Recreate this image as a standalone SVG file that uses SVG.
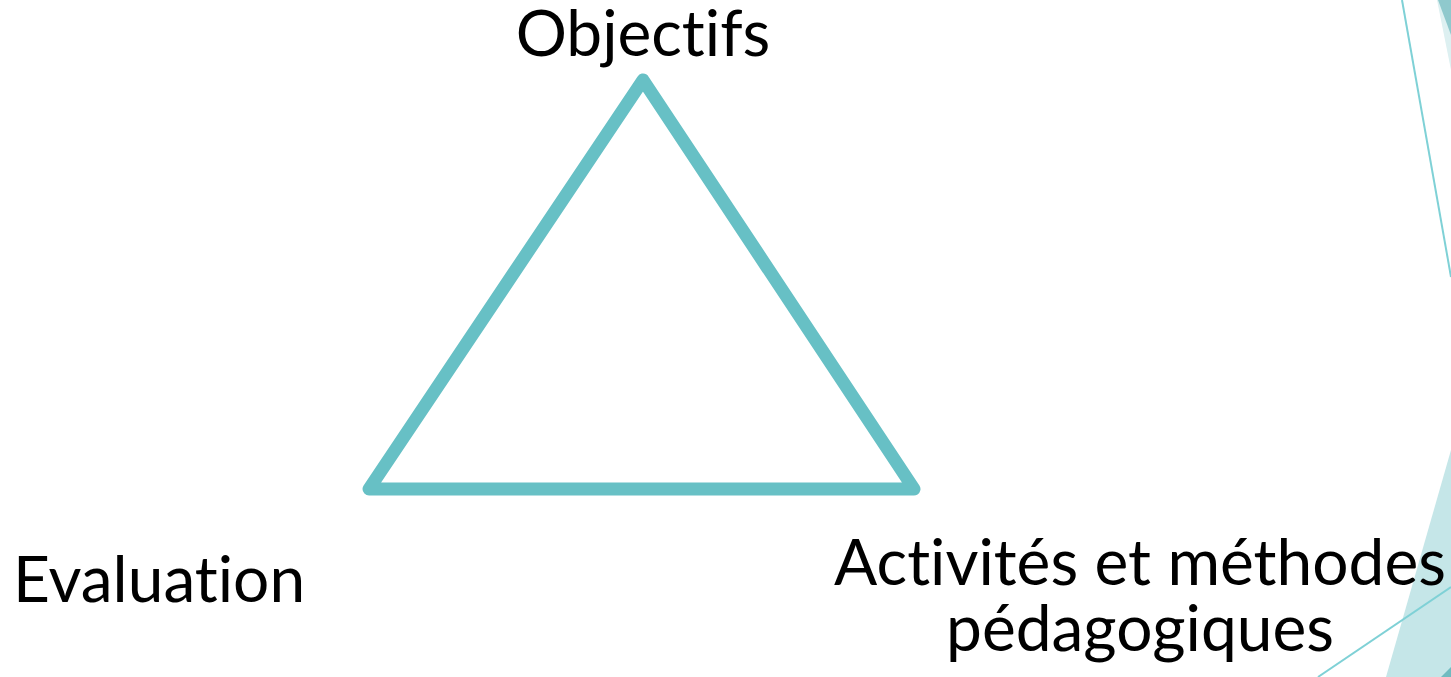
<svg xmlns="http://www.w3.org/2000/svg" width="1451" height="677" viewBox="0 0 1451 677">
<style>
.lbl{font-family:Lato,"Open Sans","Liberation Sans",sans-serif;font-size:64px;fill:#000;font-variant-ligatures:none;font-feature-settings:"liga" 0,"clig" 0}
.deco-line{stroke:#7FD1D6;stroke-width:2;fill:none}
</style>
<rect width="1451" height="677" fill="#fff"/>
<g id="decoration">
<polygon points="1437,0 1451,0 1451,70" fill="#DDF0F1"/>
<polygon points="1438,0 1451,0 1451,35" fill="#8FC9CD"/>
<polygon points="1451,450 1451,677 1386,677" fill="#C5E6E8"/>
<polygon points="1451,667 1451,677 1441,677" fill="#6FBBC0"/>
<line class="deco-line" x1="1402" y1="0" x2="1451" y2="277"/>
<line class="deco-line" x1="1318" y1="677" x2="1451" y2="587"/>
</g>
<g id="connectors">
<polygon points="643,80 914,489 369,489" fill="none" stroke="#67C0C5" stroke-width="13" stroke-linejoin="round"/>
</g>
<g id="node-objectifs"><text class="lbl" x="643" y="56" text-anchor="middle">Objectifs</text></g>
<g id="node-evaluation"><text class="lbl" x="13" y="602">Evaluation</text></g>
<g id="node-activites">
<text class="lbl" x="1140" y="585" text-anchor="middle">Activités et méthodes</text>
<text class="lbl" x="1140" y="651" text-anchor="middle">pédagogiques</text>
</g>
</svg>
